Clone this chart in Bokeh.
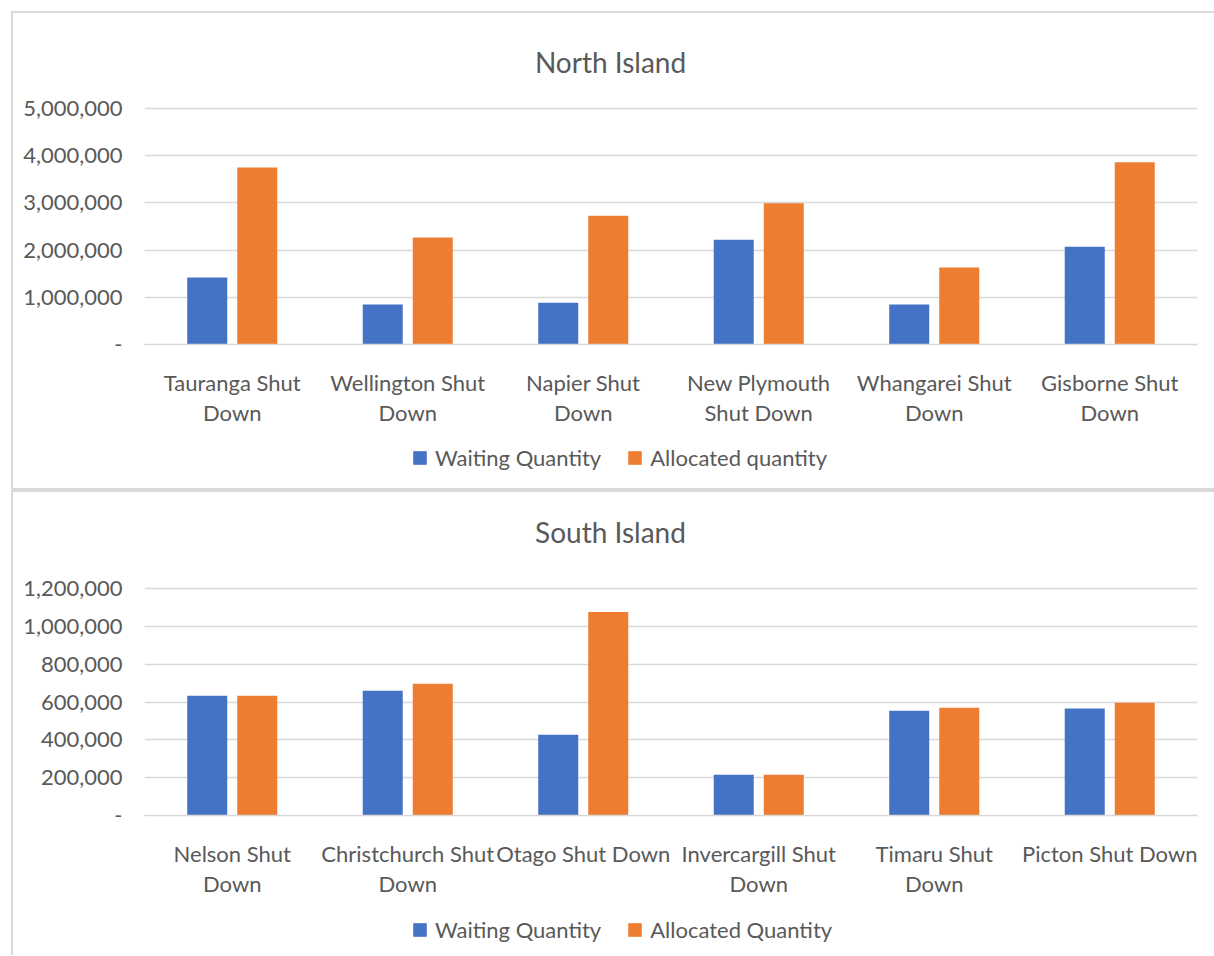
from bokeh.plotting import figure
from bokeh.layouts import column
from bokeh.models import (ColumnDataSource, FactorRange, Range1d, FixedTicker,
                          NumeralTickFormatter, Legend, LegendItem, Label)
from bokeh.transform import dodge
from bokeh.embed import file_html
from bokeh.resources import INLINE

# ---------------- data ----------------
north_title = "North Island"
north_categories = ["Tauranga Shut\nDown", "Wellington Shut\nDown", "Napier Shut\nDown",
                    "New Plymouth\nShut Down", "Whangarei Shut\nDown", "Gisborne Shut\nDown"]
north_waiting = [1420000, 845000, 885000, 2220000, 845000, 2070000]
north_allocated = [3750000, 2265000, 2730000, 2990000, 1630000, 3860000]
north_yticks = [0, 1000000, 2000000, 3000000, 4000000, 5000000]
north_series = ["Waiting Quantity", "Allocated quantity"]

south_title = "South Island"
south_categories = ["Nelson Shut\nDown", "Christchurch Shut\nDown", "Otago Shut Down",
                    "Invercargill Shut\nDown", "Timaru Shut\nDown", "Picton Shut Down"]
south_waiting = [633000, 660000, 427000, 216000, 554000, 565000]
south_allocated = [633000, 697000, 1076000, 216000, 570000, 596000]
south_yticks = [0, 200000, 400000, 600000, 800000, 1000000, 1200000]
south_series = ["Waiting Quantity", "Allocated Quantity"]

BLUE = "#4472C4"
ORANGE = "#ED7D31"
GRID = "#D9D9D9"
TEXT = "#595959"
FONT = "Lato"
W = 1201
LEFT = 131
RIGHT = 17
FRAME_W = W - LEFT - RIGHT
TOP_PAD_PX = 2  # keeps the top gridline fully visible inside the frame


def blank(height):
    f = figure(width=W, height=height, x_range=Range1d(0, FRAME_W),
               y_range=Range1d(height, 0),
               x_axis_location=None, y_axis_location=None, output_backend="svg",
               toolbar_location=None, min_border_left=LEFT, min_border_right=RIGHT,
               min_border_top=0, min_border_bottom=0)
    f.outline_line_color = None
    f.grid.visible = False
    f.background_fill_color = "white"
    f.border_fill_color = "white"
    return f


def header(title, height, text_y):
    h = blank(height)
    h.add_layout(Label(x=466, y=text_y, text=title, text_align="center",
                       text_baseline="middle", text_font=FONT, text_font_size="28px",
                       text_color=TEXT))
    return h


def legend_fig(series, height, vy):
    f = blank(height)
    proxy = ColumnDataSource(dict(x=[0], top=[0]))
    g1 = f.vbar(x="x", top="top", width=0, source=proxy, fill_color=BLUE, line_color=None)
    g2 = f.vbar(x="x", top="top", width=0, source=proxy, fill_color=ORANGE, line_color=None)
    legend = Legend(items=[LegendItem(label=series[0], renderers=[g1], index=0),
                           LegendItem(label=series[1], renderers=[g2], index=0)],
                    orientation="horizontal", location=(267, vy),
                    label_text_font=FONT, label_text_font_size="22px",
                    label_text_color=TEXT, glyph_width=17, glyph_height=17,
                    label_standoff=7, spacing=25, padding=0, margin=0,
                    border_line_color=None, background_fill_alpha=0)
    f.add_layout(legend, "center")
    return f


def make_chart(cats, waiting, allocated, yticks, height, top, bottom):
    src = ColumnDataSource(dict(cat=cats, waiting=waiting, allocated=allocated))
    frame_h = height - top - bottom
    plot_h = frame_h - TOP_PAD_PX
    ymax = yticks[-1] + (yticks[-1] - yticks[0]) * TOP_PAD_PX / plot_h
    p = figure(x_range=FactorRange(*cats, range_padding=0),
               y_range=Range1d(yticks[0], ymax),
               width=W, height=height, output_backend="svg",
               toolbar_location=None,
               min_border_left=LEFT, min_border_right=RIGHT,
               min_border_top=top, min_border_bottom=bottom)
    p.outline_line_color = None
    p.background_fill_color = "white"
    p.border_fill_color = "white"

    p.vbar(x=dodge("cat", -0.1425, range=p.x_range), top="waiting", width=0.228,
           source=src, fill_color=BLUE, line_color=None)
    p.vbar(x=dodge("cat", 0.1425, range=p.x_range), top="allocated", width=0.228,
           source=src, fill_color=ORANGE, line_color=None)

    p.xgrid.grid_line_color = None
    p.ygrid.grid_line_color = GRID
    p.ygrid.grid_line_width = 1.5
    p.ygrid.ticker = FixedTicker(ticks=yticks)

    ya = p.yaxis[0]
    ya.ticker = FixedTicker(ticks=yticks)
    ya.formatter = NumeralTickFormatter(format="0,0")
    ya.major_label_overrides = {0: "-"}
    ya.axis_line_color = None
    ya.major_tick_line_color = None
    ya.minor_tick_line_color = None
    ya.major_label_text_font = FONT
    ya.major_label_text_font_size = "22px"
    ya.major_label_text_color = TEXT
    ya.major_label_standoff = 16

    xa = p.xaxis[0]
    xa.axis_line_color = GRID
    xa.axis_line_width = 1.5
    xa.major_tick_line_color = None
    xa.minor_tick_line_color = None
    xa.major_label_text_font = FONT
    xa.major_label_text_font_size = "22px"
    xa.major_label_text_color = TEXT
    xa.major_label_text_line_height = 1.125
    xa.major_label_standoff = 18
    return p


h1 = header(north_title, 71, 48)
p1 = make_chart(north_categories, north_waiting, north_allocated, north_yticks,
                height=356, top=22, bottom=96)
l1 = legend_fig(north_series, 48, 17)

h2 = header(south_title, 66, 39)
p2 = make_chart(south_categories, south_waiting, south_allocated, south_yticks,
                height=354, top=28, bottom=97)
l2 = legend_fig(south_series, 43, 12)

chart1 = column(h1, p1, l1, background="white", margin=(2, 0, 0, 2), spacing=0)
chart2 = column(h2, p2, l2, background="white", margin=(4, 0, 0, 2), spacing=0)
layout = column(chart1, chart2, background=GRID, margin=(11, 0, 0, 11), spacing=0)

open("out.html", "w").write(file_html(layout, INLINE))
